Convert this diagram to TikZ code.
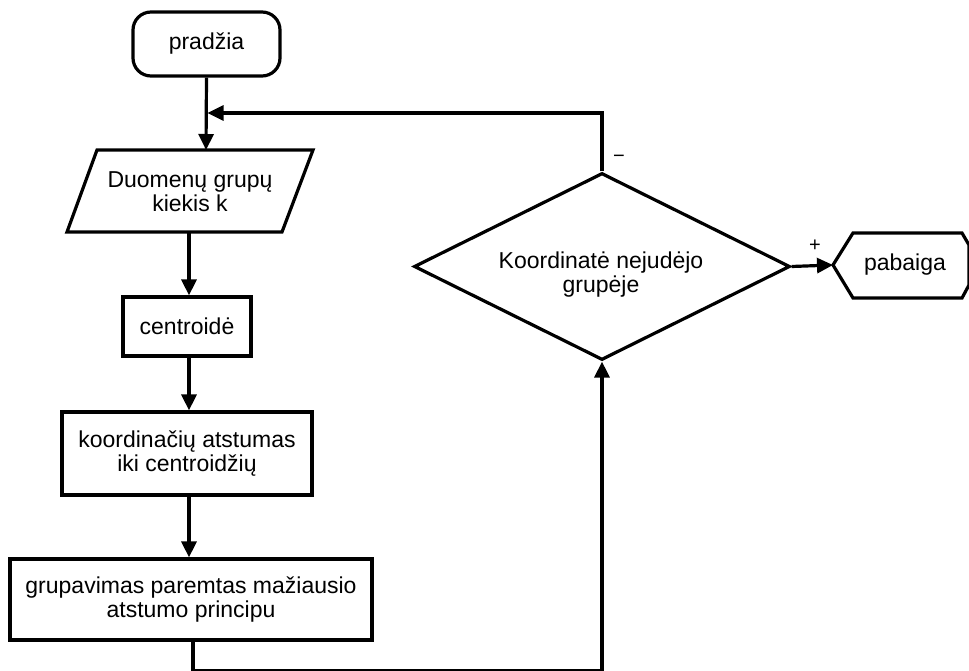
\documentclass[tikz,border=0pt]{standalone}
\usepackage{fontspec}
\setmainfont{Liberation Sans}
\usetikzlibrary{arrows.meta,shapes.geometric}
\begin{document}
\begin{tikzpicture}[x=1pt,y=-1pt,
  every node/.style={font=\fontsize{23}{24}\selectfont, align=center, inner sep=0pt},
  outline/.style={draw, line width=3.2pt, line join=miter},
  procbox/.style={outline, rectangle},
  wire/.style={line width=3.2pt},
  flow/.style={wire, -{Triangle[length=16pt,width=15pt]}},
  tag/.style={font=\fontsize{20}{20}\selectfont}]
  \useasboundingbox[fill=white] (0,0) rectangle (969,671);

  % start terminal
  \node[procbox, rounded corners=18pt, minimum width=147pt, minimum height=64pt]
    (start) at (206.5,44) {pradžia};

  % input parallelogram
  \draw[outline] (97,150) -- (313,150) -- (282,232) -- (67,232) -- cycle;
  \node (input) at (190,192) {Duomenų grupų\\kiekis k};
  \coordinate (inTop) at (206,150);
  \coordinate (inBot) at (189,232);
  \coordinate (loopEnd) at (207.5,113);

  % process boxes
  \node[procbox, minimum width=128pt, minimum height=59pt] (centr) at (187,326.5) {centroidė};
  \node[procbox, minimum width=250pt, minimum height=83pt] (dist) at (187,453.5)
    {koordinačių atstumas\\iki centroidžių};
  \node[procbox, minimum width=362pt, minimum height=81pt] (group) at (191,599.5)
    {grupavimas paremtas mažiausio\\atstumo principu};

  % decision
  \node[outline, diamond, minimum width=376pt, minimum height=187pt] (dec) at (602,266.5) {};
  \node (decText) at (601,275) {Koordinatė nejudėjo\\grupėje};

  % end terminal (hexagon)
  \draw[outline] (833,265) -- (853,233) -- (962,233) -- (969,245) -- (969,285) -- (962,298) -- (853,298) -- cycle;
  \node (stop) at (905,265) {pabaiga};
  \coordinate (stopL) at (833,265);

  % connectors
  \draw[flow] (start.south) -- (inTop);
  \draw[flow] (inBot) -- (inBot |- centr.north);
  \draw[flow] (inBot |- centr.south) -- (inBot |- dist.north);
  \draw[flow] (inBot |- dist.south) -- (inBot |- group.north);
  \coordinate (groupOut) at ([xshift=2pt]group.south);
  \coordinate (bottomTurn) at (602,671);
  \draw[flow] (groupOut) |- (bottomTurn) -- (dec.south);
  \draw[flow] (dec.north) |- (loopEnd);
  \draw[flow] (dec.east) -- (stopL);

  % branch labels
  \node[tag] (minus) at (619,159) {−};
  \node[tag] (plus) at (815,246) {+};
\end{tikzpicture}
\end{document}
